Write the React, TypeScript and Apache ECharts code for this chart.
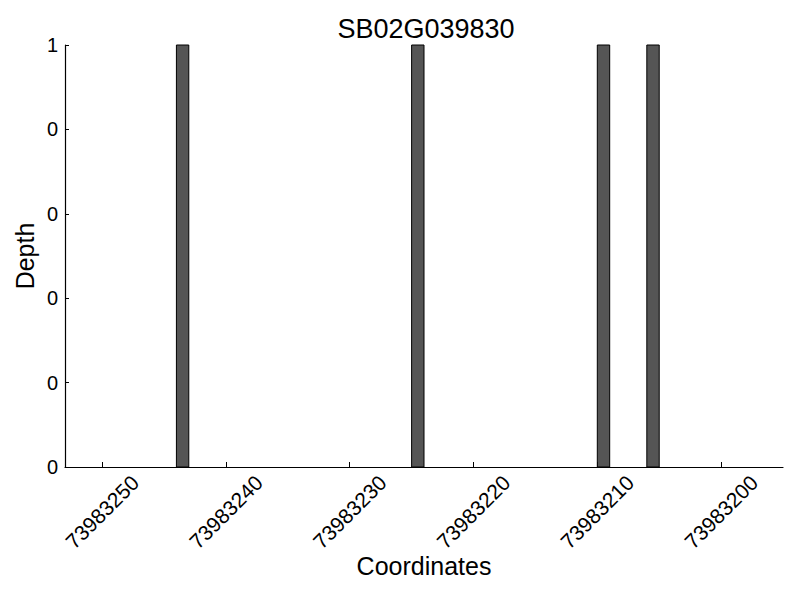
import React, { useEffect, useRef } from "react";
import * as echarts from "echarts";

const titleText = "SB02G039830";
const xName = "Coordinates";
const yName = "Depth";
// bar start coordinates (each bar spans one base: start .. start+1)
const positions = [73983243, 73983224, 73983209, 73983205];
const depths = [1, 1, 1, 1];
const xTicks = [73983200, 73983210, 73983220, 73983230, 73983240, 73983250];
const xMin = 73983195;
const xMax = 73983253;
const yTicks = [0, 0.2, 0.4, 0.6, 0.8, 1];

const FONT = "Liberation Sans";

export default function App() {
  const ref = useRef<HTMLDivElement>(null);
  useEffect(() => {
    document.body.style.margin = "0";
    const chart = echarts.init(ref.current!, undefined, { renderer: "svg" });
    const data = positions.map((p, i) => [p, depths[i]]);
    chart.setOption({
      animation: false,
      backgroundColor: "#ffffff",
      textStyle: { fontFamily: FONT, color: "#000" },
      title: {
        text: titleText,
        left: 421,
        top: 10,
        textAlign: "center",
        textStyle: { fontFamily: FONT, fontSize: 27, fontWeight: "normal", color: "#000" },
      },
      grid: { left: 65, right: 17, top: 45, bottom: 133, containLabel: false },
      xAxis: {
        type: "value",
        inverse: true,
        min: xMin,
        max: xMax,
        name: xName,
        nameLocation: "middle",
        nameGap: 86,
        nameMoveOverlap: false,
        nameTextStyle: { fontFamily: FONT, fontSize: 25, color: "#000" },
        axisLine: { show: true, lineStyle: { color: "#000", width: 1.2 } },
        axisTick: { show: true, inside: true, length: 5, customValues: xTicks, lineStyle: { color: "#000" } },
        axisLabel: {
          customValues: xTicks,
          rotate: 45,
          align: "center",
          verticalAlign: "middle",
          margin: 45,
          fontFamily: FONT,
          fontSize: 21,
          color: "#000",
          formatter: (v: number) => String(v),
        },
        splitLine: { show: false },
      },
      yAxis: {
        type: "value",
        min: 0,
        max: 1,
        interval: 0.2,
        name: yName,
        nameLocation: "middle",
        nameGap: 28,
        nameMoveOverlap: false,
        nameTextStyle: { fontFamily: FONT, fontSize: 25, color: "#000" },
        axisLine: { show: true, lineStyle: { color: "#000", width: 1.2 } },
        axisTick: { show: true, inside: true, length: 4, customValues: yTicks, lineStyle: { color: "#000" } },
        axisLabel: {
          margin: 7,
          fontFamily: FONT,
          fontSize: 20,
          color: "#000",
          formatter: (v: number) => String(Math.trunc(v + 1e-9)),
        },
        splitLine: { show: false },
      },
      series: [
        {
          type: "custom",
          data,
          renderItem: (params: any, api: any) => {
            const start = api.value(0);
            const d = api.value(1);
            const p0 = api.coord([start, 0]);
            const p1 = api.coord([start + 1, d]);
            const x = Math.min(p0[0], p1[0]);
            const w = Math.abs(p1[0] - p0[0]);
            return {
              type: "rect",
              shape: { x, y: p1[1], width: w, height: p0[1] - p1[1] },
              style: { fill: "#555555", stroke: "#000000", lineWidth: 1 },
            };
          },
        },
      ],
    });
    return () => chart.dispose();
  }, []);
  return <div ref={ref} style={{ width: 800, height: 600 }} />;
}
